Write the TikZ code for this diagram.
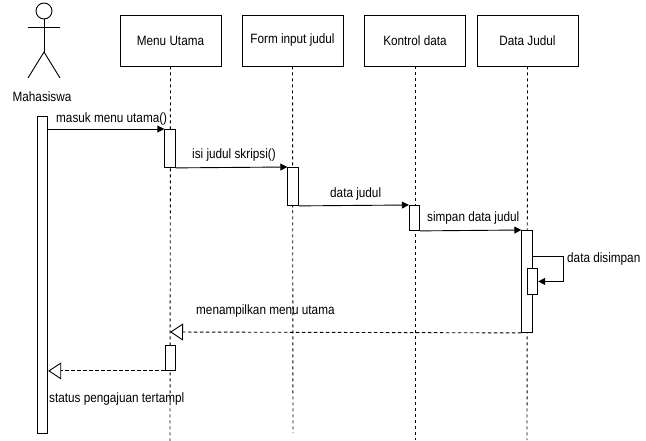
\documentclass[tikz,border=0pt]{standalone}
\usepackage{fontspec}
\setmainfont[FakeStretch=0.87]{Liberation Sans}
\usetikzlibrary{arrows.meta,calc,positioning}

\begin{document}
\begin{tikzpicture}[x=1pt,y=-1pt,
    every node/.style={font=\fontsize{13.5}{15}\selectfont},
    headbox/.style={draw,line width=0.9pt,minimum width=101,minimum height=51,inner sep=0},
    lifeline/.style={draw,line width=0.9pt,dash pattern=on 3pt off 3pt},
    actbar/.style={draw,fill=white,line width=0.9pt,minimum width=10.5,inner sep=0,anchor=north},
    msg/.style={line width=0.9pt,-{Triangle[length=7pt,width=7pt]}},
    reply/.style={line width=0.9pt,dash pattern=on 3.5pt off 2.5pt,-{Triangle[open,length=13pt,width=17pt,line width=0.9pt]}},
    lbl/.style={anchor=west,inner sep=0}]
    \useasboundingbox (0,0) rectangle (646,441);

    % actor
    \pgfmathsetmacro{\ax}{44};
    \draw[line width=0.9pt] (\ax,11) circle[radius=8];
    \draw[line width=0.9pt] (\ax,19) -- (\ax,52);
    \draw[line width=0.9pt] (\ax-16,27) -- (\ax+16,27);
    \draw[line width=0.9pt] (\ax-16,78) -- (\ax,52) -- (\ax+16,78);
    \node[] (mhs) at (42,97) {Mahasiswa};

    % heads
    \node[headbox] (menu) at (170.5,40.5) {Menu Utama};
    \node[headbox] (form) at (292.5,40.5) {Form input judul};
    \node[headbox] (ctrl) at (415,40.5) {Kontrol data};
    \node[headbox] (data) at (527.5,40.5) {Data Judul};

    % lifelines
    \coordinate (menuEnd) at (170,441);
    \coordinate (formEnd) at (293,433);
    \coordinate (ctrlEnd) at (415,440);
    \coordinate (dataEnd) at (527,440);
    \draw[lifeline] (menu.south) -- (menuEnd);
    \draw[lifeline] (form.south) -- (formEnd);
    \draw[lifeline] (ctrl.south) -- (ctrlEnd);
    \draw[lifeline] (data.south) -- (dataEnd);

    % activations
    \node[actbar,minimum height=317] (mhsA) at (42.5,116) {};
    \node[actbar,minimum height=38] (menuA) at (170,129) {};
    \node[actbar,minimum height=38] (formA) at (293,167) {};
    \node[actbar,minimum height=25] (ctrlA) at (414.5,205) {};
    \node[actbar,minimum height=102] (dataA) at (527,230) {};
    \node[actbar,minimum height=26] (selfA) at (532.5,268) {};
    \node[actbar,minimum height=25] (menuB) at (170.5,345) {};

    % messages
    \draw[msg] ($(mhsA.north east)+(0,13)$) -- (menuA.north west);
    \node[lbl] (m1) at (56,119) {masuk menu utama()};
    \draw[msg] (menuA.south east) -- (formA.north west);
    \node[lbl] (m2) at (192,155) {isi judul skripsi()};
    \draw[msg] (formA.south east) -- (ctrlA.north west);
    \node[lbl] (m3) at (330,194) {data judul};
    \draw[msg] (ctrlA.south east) -- (dataA.north west);
    \node[lbl] (m4) at (427,218) {simpan data judul};
    \draw[msg] ($(dataA.north east)+(0,26)$) -| ($(selfA.east)+(25,0)$) -- (selfA.east);
    \node[lbl] (m5) at (567,259) {data disimpan};

    % replies
    \coordinate (menuR) at (170,332);
    \draw[reply] (dataA.south west) -- (menuR);
    \node[lbl] (r1) at (196,311) {menampilkan menu utama};
    \draw[reply] (menuB.south west) -- (mhsA.east |- menuB.south);
    \node[lbl] (r2) at (49,399) {status pengajuan tertampl};
\end{tikzpicture}
\end{document}
